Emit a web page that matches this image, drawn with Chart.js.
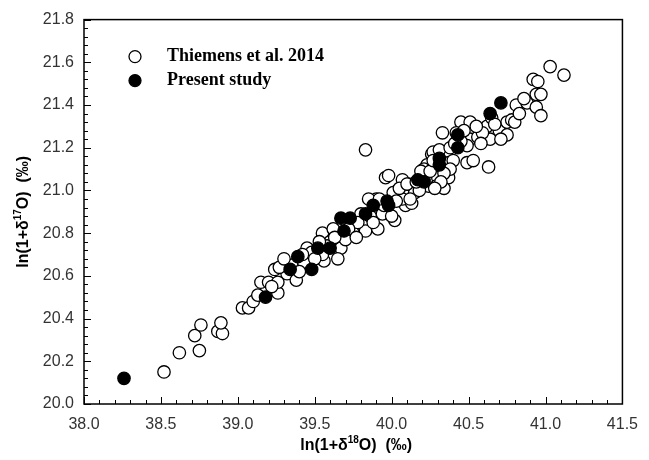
<!DOCTYPE html>
<html>
<head>
<meta charset="utf-8">
<script src="https://cdn.jsdelivr.net/npm/chart.js@4"></script>
<style>
  html, body { margin: 0; padding: 0; background: #fff; }
  #wrap { width: 649px; height: 460px; }
</style>
</head>
<body>
<div id="wrap"><canvas id="chart"></canvas></div>
<script>
// axis ticks
const xTicks = [38.0, 38.5, 39.0, 39.5, 40.0, 40.5, 41.0, 41.5];
const yTicks = [20.0, 20.2, 20.4, 20.6, 20.8, 21.0, 21.2, 21.4, 21.6, 21.8];

// Thiemens et al. 2014 (open circles)
const thiemensX = [38.52, 38.62, 38.75, 38.72, 38.76, 38.87, 38.90, 38.89, 39.03, 39.07,
  39.10, 39.15, 39.20, 39.24, 39.26, 39.26, 39.32, 39.38, 39.35, 39.27,
  39.45, 39.55, 39.56, 39.60, 39.67, 39.65, 39.67, 39.55, 39.75, 39.80,
  39.83, 39.91, 39.90, 39.94, 40.02, 40.09, 40.04, 40.07, 40.11, 40.15,
  39.96, 39.98, 39.83, 40.23, 40.24, 40.30, 40.29, 39.85, 40.33, 40.01,
  40.07, 40.13, 40.26, 40.27, 40.21, 40.24, 40.30, 40.29, 40.37, 40.34,
  40.37, 40.45, 40.51, 40.51, 40.56, 40.62, 40.64, 40.70, 40.75, 40.75,
  40.78, 40.81, 40.88, 40.49, 40.31, 40.63, 40.49, 40.53, 40.94, 40.97,
  40.94, 40.97, 40.92, 40.95, 41.03, 41.12, 40.40, 40.38, 40.34, 40.32,
  40.28, 40.05, 40.10, 40.86, 40.80, 40.65,
  39.43, 39.48, 39.58, 39.70, 39.78, 39.95, 40.00, 40.12, 40.18, 40.38,
  40.45, 40.59, 40.67, 40.71, 40.83, 39.13, 39.30, 39.62, 39.72, 39.86,
  40.21, 40.42,
  39.22, 39.40, 39.42, 39.50, 39.53, 39.63, 39.77, 39.88, 39.92, 40.03,
  40.16, 40.19, 40.25, 40.27, 40.41, 40.47, 40.55, 40.58];
const thiemensY = [20.15, 20.24, 20.25, 20.32, 20.37, 20.34, 20.33, 20.38, 20.45, 20.45,
  20.48, 20.57, 20.57, 20.63, 20.52, 20.57, 20.61, 20.58, 20.65, 20.64,
  20.73, 20.80, 20.67, 20.76, 20.73, 20.68, 20.80, 20.70, 20.80, 20.89,
  20.81, 20.82, 20.96, 20.89, 20.86, 20.93, 21.00, 21.05, 21.03, 20.99,
  21.06, 21.07, 21.19, 21.12, 21.02, 21.17, 21.13, 20.96, 21.27, 20.99,
  20.96, 20.94, 21.17, 21.18, 21.10, 21.06, 21.06, 21.02, 21.06, 21.01,
  21.13, 21.32, 21.32, 21.24, 21.25, 21.30, 21.24, 21.28, 21.26, 21.32,
  21.33, 21.40, 21.41, 21.21, 21.19, 21.11, 21.13, 21.14, 21.45, 21.45,
  21.39, 21.35, 21.52, 21.51, 21.58, 21.54, 21.14, 21.10, 21.08, 21.04,
  21.01, 21.01, 21.03, 21.43, 21.32, 21.34,
  20.66, 20.71, 20.74, 20.77, 20.85, 20.93, 20.88, 20.96, 21.00, 21.20,
  21.23, 21.27, 21.31, 21.24, 21.36, 20.51, 20.68, 20.82, 20.82, 20.88,
  21.05, 21.27,
  20.55, 20.62, 20.70, 20.68, 20.76, 20.78, 20.78, 20.85, 20.96, 20.95,
  21.04, 21.09, 21.09, 21.14, 21.22, 21.28, 21.30, 21.22];

// Present study (filled circles)
const presentX = [38.26, 39.18, 39.34, 39.39, 39.48, 39.52, 39.60, 39.67, 39.73, 39.69,
  39.83, 39.88, 39.97, 39.98, 40.17, 40.21, 40.31, 40.31, 40.43, 40.43,
  40.64, 40.71];
const presentY = [20.12, 20.50, 20.63, 20.69, 20.63, 20.73, 20.73, 20.87, 20.87, 20.81,
  20.89, 20.93, 20.95, 20.93, 21.05, 21.04, 21.15, 21.12, 21.26, 21.20,
  21.36, 21.41];

const seriesNames = ['Present study', 'Thiemens et al. 2014'];

function toPoints(xs, ys) {
  return xs.map((v, i) => ({ x: v, y: ys[i] }));
}

// frame, inward ticks, axis titles and legend drawn over the plot
const decorations = {
  id: 'decorations',
  afterDatasetsDraw(chart) {
    const ctx = chart.ctx;
    const a = chart.chartArea;
    const x = chart.scales.x;
    const y = chart.scales.y;
    ctx.save();
    ctx.strokeStyle = '#000';
    ctx.lineWidth = 1.5;
    ctx.strokeRect(a.left, a.top, a.right - a.left, a.bottom - a.top);

    ctx.lineWidth = 1;
    // x ticks: minor every 0.1
    for (let i = 0; i <= 35; i++) {
      const px = Math.round(x.getPixelForValue(38 + i * 0.1)) + 0.5;
      const len = i % 5 === 0 ? 7 : 4;
      ctx.beginPath();
      ctx.moveTo(px, a.bottom);
      ctx.lineTo(px, a.bottom - len);
      ctx.stroke();
    }
    // y ticks: minor every 0.04
    for (let i = 0; i <= 45; i++) {
      const py = Math.round(y.getPixelForValue(20 + i * 0.04)) + 0.5;
      const len = i % 5 === 0 ? 7 : 4;
      ctx.beginPath();
      ctx.moveTo(a.left, py);
      ctx.lineTo(a.left + len, py);
      ctx.stroke();
    }

    // axis titles with superscripts
    ctx.fillStyle = '#000';
    ctx.textBaseline = 'alphabetic';
    function titleParts(iso) {
      return [
        ['ln(1+\u03b4', 'bold 16px "Liberation Sans", Arial, sans-serif', 0],
        [iso, 'bold 10px "Liberation Sans", Arial, sans-serif', -7],
        ['O)  (\u2030)', 'bold 16px "Liberation Sans", Arial, sans-serif', 0]
      ];
    }
    function drawParts(parts, cx, cy) {
      let w = 0;
      parts.forEach(p => { ctx.font = p[1]; w += ctx.measureText(p[0]).width; });
      let cur = cx - w / 2;
      parts.forEach(p => {
        ctx.font = p[1];
        ctx.textAlign = 'left';
        ctx.fillText(p[0], cur, cy + p[2]);
        cur += ctx.measureText(p[0]).width;
      });
    }
    drawParts(titleParts('18'), (a.left + a.right) / 2 + 3, 450);
    ctx.save();
    ctx.translate(28, (a.top + a.bottom) / 2);
    ctx.rotate(-Math.PI / 2);
    drawParts(titleParts('17'), 0, 0);
    ctx.restore();

    // legend inside the plot
    const lx = a.left + 51;
    const rows = [
      { name: seriesNames[1], fill: '#fff', y: a.top + 37 },
      { name: seriesNames[0], fill: '#000', y: a.top + 61 }
    ];
    rows.forEach(r => {
      ctx.beginPath();
      ctx.arc(lx, r.y, 6, 0, Math.PI * 2);
      ctx.fillStyle = r.fill;
      ctx.fill();
      ctx.lineWidth = 1.3;
      ctx.strokeStyle = '#000';
      ctx.stroke();
      ctx.fillStyle = '#000';
      ctx.font = 'bold 18px "Liberation Serif", "Times New Roman", serif';
      ctx.textAlign = 'left';
      ctx.textBaseline = 'middle';
      ctx.fillText(r.name, lx + 32, r.y);
    });
    ctx.restore();
  }
};

new Chart(document.getElementById('chart'), {
  type: 'scatter',
  data: {
    datasets: [
      {
        label: seriesNames[0],
        data: toPoints(presentX, presentY),
        pointRadius: 6.2,
        pointBackgroundColor: '#000',
        pointBorderColor: '#000',
        pointBorderWidth: 1.3
      },
      {
        label: seriesNames[1],
        data: toPoints(thiemensX, thiemensY),
        pointRadius: 6.2,
        pointBackgroundColor: '#fff',
        pointBorderColor: '#000',
        pointBorderWidth: 1.3
      }
    ]
  },
  options: {
    responsive: true,
    maintainAspectRatio: false,
    animation: false,
    events: [],
    layout: { padding: { top: 17, right: 13, left: 0, bottom: 0 } },
    plugins: {
      legend: { display: false },
      tooltip: { enabled: false }
    },
    scales: {
      x: {
        type: 'linear',
        min: xTicks[0],
        max: xTicks[xTicks.length - 1],
        border: { display: false },
        grid: { display: false, drawTicks: false },
        afterBuildTicks: s => { s.ticks = xTicks.map(v => ({ value: v })); },
        afterFit: s => { s.height = 56; },
        ticks: {
          padding: 11,
          color: '#333',
          font: { family: '"Liberation Sans", Arial, sans-serif', size: 16 },
          callback: v => v.toFixed(1)
        }
      },
      y: {
        type: 'linear',
        min: yTicks[0],
        max: yTicks[yTicks.length - 1],
        border: { display: false },
        grid: { display: false, drawTicks: false },
        afterBuildTicks: s => { s.ticks = yTicks.map(v => ({ value: v })); },
        afterFit: s => { s.width = 84; },
        ticks: {
          padding: 10,
          color: '#333',
          font: { family: '"Liberation Sans", Arial, sans-serif', size: 16 },
          callback: v => v.toFixed(1)
        }
      }
    }
  },
  plugins: [decorations]
});
</script>
</body>
</html>
